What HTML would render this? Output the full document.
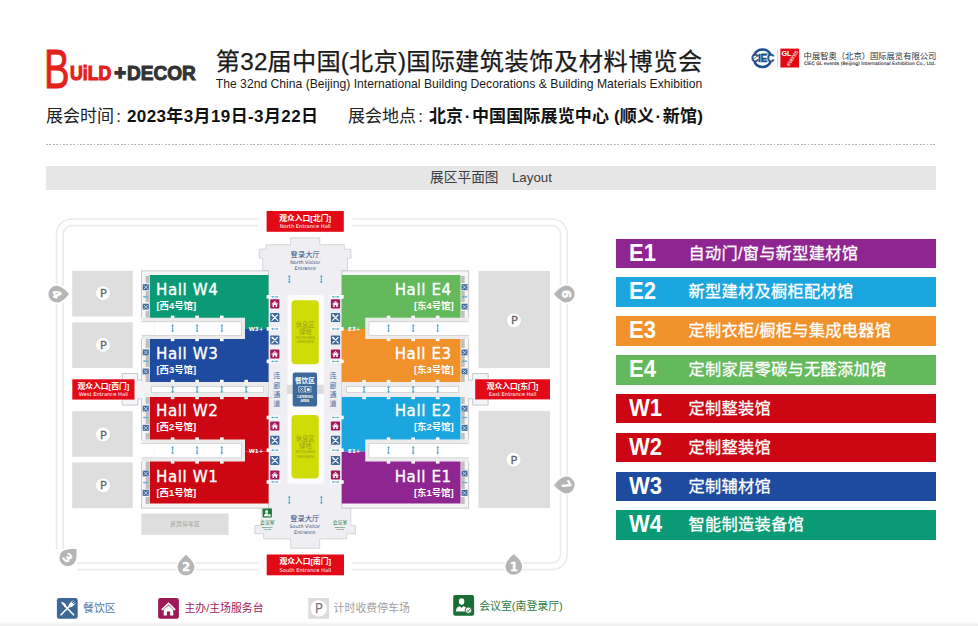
<!DOCTYPE html>
<html lang="zh-CN">
<head>
<meta charset="utf-8">
<title>展区平面图 Layout</title>
<style>
html,body{margin:0;padding:0;background:#fff;}
body{width:978px;height:626px;position:relative;overflow:hidden;font-family:"Liberation Sans","Noto Sans CJK SC",sans-serif;color:#222;}
.abs{position:absolute;white-space:nowrap;}
#title{left:215.8px;top:43.6px;font-size:24.2px;line-height:36px;color:#1a1a1a;letter-spacing:0.23px;-webkit-text-stroke:0.25px #1a1a1a;}
#title span{letter-spacing:0.57px;}
#subtitle{left:215.8px;top:76.4px;font-size:12.16px;line-height:16px;color:#1a1a1a;}
#info1{left:46px;top:104.2px;font-size:17px;line-height:26px;color:#222;}
#info2{left:348px;top:104.2px;font-size:17px;line-height:26px;color:#222;}
#info1 b,#info2 b{font-weight:700;color:#111;margin-left:1.3px;}
.cl{margin-left:2.2px;}
#info1 b{letter-spacing:0.39px;}
#info2 b{letter-spacing:0.16px;}
#info2 b i{font-style:normal;margin:0 1.4px;}
#dots{left:46px;top:144px;width:890px;height:1.2px;background:repeating-linear-gradient(90deg,#b4b4b4 0,#b4b4b4 1.7px,transparent 1.7px,transparent 3.4px);}
#bar{left:46px;top:165.6px;width:890px;height:24px;background:#e6e6e7;}
#bartext{left:46px;top:166.2px;width:890px;height:23px;line-height:23px;text-align:center;font-size:13.7px;color:#3c3c3c;}
.lg{left:616px;width:320px;height:29.5px;}
.lg .k{position:absolute;left:13.4px;top:0;line-height:29.6px;font-size:23.2px;font-weight:700;color:#fff;font-family:"Liberation Sans",sans-serif;transform:scaleX(0.95);transform-origin:0 0;}
.lg .t{position:absolute;left:72.4px;top:0;line-height:28.6px;font-size:16.2px;color:#fff;letter-spacing:0.32px;-webkit-text-stroke:0.3px #fff;}
.bl{font-size:10.9px;line-height:16px;}
#map{left:0;top:0;}
</style>
</head>
<body>

<!-- header -->
<div class="abs" id="logo" style="left:46px;top:46px;width:152px;height:44px;">
  <span class="abs" id="lgB" style="left:-2.2px;top:-4.0px;font-size:55.5px;line-height:55.5px;font-weight:400;color:#e3211c;transform:scale(0.69,1);transform-origin:0 0;-webkit-text-stroke:0.9px #e3211c;">B</span>
  <span class="abs" id="lgU" style="left:23.9px;top:17.3px;font-size:20.2px;line-height:20px;font-weight:700;color:#e3211c;transform:scale(0.88,1);transform-origin:0 0;-webkit-text-stroke:1.15px #e3211c;">UiLD</span>
  <span class="abs" id="lgP" style="left:68.2px;top:16.5px;font-size:20.2px;line-height:20px;font-weight:700;color:#333;-webkit-text-stroke:1.3px #333;">+</span>
  <span class="abs" id="lgD" style="left:80.6px;top:17.3px;font-size:20.2px;line-height:20px;font-weight:700;color:#333;transform:scale(0.945,1);transform-origin:0 0;-webkit-text-stroke:1.0px #333;">DECOR</span>
</div>
<div class="abs" id="title">第32届中国(北京)国际<span>建筑装饰及材料博览会</span></div>
<div class="abs" id="subtitle">The 32nd China (Beijing) International Building Decorations &amp; Building Materials Exhibition</div>
<div class="abs" id="info1">展会时间<span class="cl">:</span> <b>2023年3月19日-3月22日</b></div>
<div class="abs" id="info2">展会地点<span class="cl">:</span> <b>北京<i>·</i>中国国际展览中心 (顺义<i>·</i>新馆)</b></div>

<div class="abs" id="org" style="left:750px;top:46px;width:190px;height:26px;">
  <svg class="abs" style="left:0;top:0" width="52" height="26" viewBox="0 0 52 26">
    <path d="M4.4 8.6A9 9 0 0 1 20.6 8.6" fill="none" stroke="#1d4f91" stroke-width="2.5"/>
    <path d="M4.4 15.9A9 9 0 0 0 20.6 15.9" fill="none" stroke="#1d4f91" stroke-width="2.5"/>
    <path d="M3 13.5Q12 4.5 23 9.4" fill="none" stroke="#2a9a5a" stroke-width="0.9"/>
    <text x="12.5" y="15.9" text-anchor="middle" font-family="Liberation Sans, sans-serif" font-size="10.2" font-weight="700" fill="#1d4f91" stroke="#1d4f91" stroke-width="0.4" letter-spacing="-0.4">CIEC</text>
    <line x1="27.6" y1="3.5" x2="27.6" y2="21" stroke="#aaa" stroke-width="0.5"/>
    <rect x="30.4" y="2.6" width="18.7" height="18.9" fill="#e30613"/>
    <text x="31.6" y="10.2" font-family="Liberation Sans, sans-serif" font-size="7.4" font-weight="700" fill="#fff" letter-spacing="-0.3">GL</text>
    <text transform="translate(39.2,20.6) rotate(-58)" font-family="Liberation Sans, sans-serif" font-size="6.2" fill="#fff" letter-spacing="-0.2">events</text>
  </svg>
  <div class="abs" id="orgcn" style="left:53.6px;top:3.5px;font-size:8.3px;line-height:13px;color:#333;">中展智奥（北京）国际展览有限公司</div>
  <div class="abs" id="orgen" style="left:54px;top:14px;font-size:4.6px;line-height:8px;color:#333;font-family:'DejaVu Sans','Liberation Sans',sans-serif;font-weight:400;-webkit-text-stroke:0.15px #333;">CIEC GL events (Beijing) International Exhibition Co., Ltd.</div>
</div>

<div class="abs" id="dots"></div>
<div class="abs" id="bar"></div>
<div class="abs" id="bartext">展区平面图<span style="margin-left:13.4px;font-size:13.3px;">Layout</span></div>

<!-- right legend -->
<div class="abs lg" style="top:238.5px;background:#8f2590;"><span class="k">E1</span><span class="t">自动门/窗与新型建材馆</span></div>
<div class="abs lg" style="top:277.3px;background:#1ca6df;"><span class="k">E2</span><span class="t">新型建材及橱柜配材馆</span></div>
<div class="abs lg" style="top:316.2px;background:#f0912c;"><span class="k">E3</span><span class="t">定制衣柜/橱柜与集成电器馆</span></div>
<div class="abs lg" style="top:355px;background:#63b95b;"><span class="k">E4</span><span class="t">定制家居零碳与无醛添加馆</span></div>
<div class="abs lg" style="top:393.9px;background:#cc0612;"><span class="k">W1</span><span class="t">定制整装馆</span></div>
<div class="abs lg" style="top:432.7px;background:#cc0612;"><span class="k">W2</span><span class="t">定制整装馆</span></div>
<div class="abs lg" style="top:471.6px;background:#1e4ba0;"><span class="k">W3</span><span class="t">定制辅材馆</span></div>
<div class="abs lg" style="top:510.4px;background:#0a9b76;"><span class="k">W4</span><span class="t">智能制造装备馆</span></div>

<!-- MAP -->
<svg class="abs" id="map" width="978" height="626" viewBox="0 0 978 626">
<!--MAPSTART-->
<g fill="none" stroke="#ececec" stroke-width="1.7">
<rect x="56.6" y="219" width="510.6" height="350.6" rx="15" ry="15"/>
<rect x="63" y="225.6" width="497.6" height="337.6" rx="9" ry="9"/>
</g>
<rect x="258.5" y="216" width="94" height="12" fill="#fff"/><rect x="258.5" y="560" width="94" height="12" fill="#fff"/>
<rect x="72.2" y="270.8" width="60.6" height="45.7" fill="#dedede"/>
<rect x="72.2" y="322.3" width="60.6" height="45.7" fill="#dedede"/>
<rect x="72.2" y="411.1" width="60.6" height="45.7" fill="#dedede"/>
<rect x="72.2" y="462.4" width="60.6" height="45.8" fill="#dedede"/>
<rect x="478.5" y="271" width="71.5" height="97.1" fill="#dedede"/>
<rect x="478.5" y="410.8" width="71.5" height="97.2" fill="#dedede"/>
<rect x="141.3" y="513.4" width="87.3" height="21.4" fill="#dedede"/>
<text x="185" y="526.3" font-family="Liberation Sans, Noto Sans CJK SC, sans-serif" font-size="6" fill="#a8a8a8" text-anchor="middle">贵宾停车区</text>
<circle cx="103.0" cy="293.2" r="6.9" fill="#fff"/>
<text x="103.3" y="297.3" font-family="DejaVu Sans, Liberation Sans, sans-serif" font-size="11.3" fill="#666" stroke="#666" stroke-width="0.3" text-anchor="middle">P</text>
<circle cx="103.0" cy="344.9" r="6.9" fill="#fff"/>
<text x="103.3" y="349.0" font-family="DejaVu Sans, Liberation Sans, sans-serif" font-size="11.3" fill="#666" stroke="#666" stroke-width="0.3" text-anchor="middle">P</text>
<circle cx="103.0" cy="434.4" r="6.9" fill="#fff"/>
<text x="103.3" y="438.5" font-family="DejaVu Sans, Liberation Sans, sans-serif" font-size="11.3" fill="#666" stroke="#666" stroke-width="0.3" text-anchor="middle">P</text>
<circle cx="103.0" cy="485.3" r="6.9" fill="#fff"/>
<text x="103.3" y="489.4" font-family="DejaVu Sans, Liberation Sans, sans-serif" font-size="11.3" fill="#666" stroke="#666" stroke-width="0.3" text-anchor="middle">P</text>
<circle cx="514.0" cy="320.3" r="6.9" fill="#fff"/>
<text x="514.3" y="324.4" font-family="DejaVu Sans, Liberation Sans, sans-serif" font-size="11.3" fill="#666" stroke="#666" stroke-width="0.3" text-anchor="middle">P</text>
<circle cx="513.5" cy="459.6" r="6.9" fill="#fff"/>
<text x="513.8" y="463.7" font-family="DejaVu Sans, Liberation Sans, sans-serif" font-size="11.3" fill="#666" stroke="#666" stroke-width="0.3" text-anchor="middle">P</text>
<polygon points="268.5,276 268.5,270.6 262.8,270.6 262.8,258.2 259.3,258.2 259.3,249.2 266,249.2 266,244.7 290.5,244.7 290.5,237.8 319.8,237.8 319.8,244.7 344.3,244.7 344.3,249.2 351.0,249.2 351.0,258.2 347.5,258.2 347.5,270.6 341.8,270.6 341.8,276" fill="#efeff3" stroke="#c9c9c9" stroke-width="0.7"/>
<polygon points="268.5,503 268.5,506.7 261.8,506.7 261.8,525.4 254.9,525.4 254.9,533.7 263.6,533.7 263.6,538.9 290.6,538.9 290.6,548.3 319.7,548.3 319.7,538.9 346.7,538.9 346.7,533.7 355.4,533.7 355.4,525.4 350.8,525.4 350.8,506.7 341.8,506.7 341.8,503" fill="#efeff3" stroke="#c9c9c9" stroke-width="0.7"/>
<rect x="268" y="271" width="74.3" height="235.4" fill="#efeff3"/>
<rect x="287.5" y="295" width="36.4" height="188.8" rx="2.5" fill="#fcfcfe"/>
<rect x="291.5" y="300.2" width="27.3" height="64.0" rx="4" fill="#d0dc06"/>
<text x="305.2" y="326.8" font-family="Liberation Sans, Noto Sans CJK SC, sans-serif" font-size="6.3" fill="#97a018" text-anchor="middle">休息区</text>
<text x="305.2" y="333.8" font-family="Liberation Sans, Noto Sans CJK SC, sans-serif" font-size="6.3" fill="#97a018" text-anchor="middle">绿地</text>
<text x="305.2" y="338.5" font-family="Liberation Sans, sans-serif" font-size="2.6" fill="#97a018" text-anchor="middle">RESTING AREA</text>
<text x="305.2" y="343.2" font-family="Liberation Sans, sans-serif" font-size="2.6" fill="#97a018" text-anchor="middle">GREEN AREA</text>
<rect x="291.5" y="415" width="27.3" height="63.4" rx="4" fill="#d0dc06"/>
<text x="305.2" y="441.3" font-family="Liberation Sans, Noto Sans CJK SC, sans-serif" font-size="6.3" fill="#97a018" text-anchor="middle">休息区</text>
<text x="305.2" y="448.3" font-family="Liberation Sans, Noto Sans CJK SC, sans-serif" font-size="6.3" fill="#97a018" text-anchor="middle">绿地</text>
<text x="305.2" y="453.0" font-family="Liberation Sans, sans-serif" font-size="2.6" fill="#97a018" text-anchor="middle">RESTING AREA</text>
<text x="305.2" y="457.7" font-family="Liberation Sans, sans-serif" font-size="2.6" fill="#97a018" text-anchor="middle">GREEN AREA</text>
<rect x="286.8" y="384.8" width="37" height="9.2" fill="#dcdcdc"/>
<rect x="292.7" y="372.6" width="24.4" height="33.8" rx="2.2" fill="#3d6a9a"/>
<text x="304.9" y="382.6" font-family="Liberation Sans, Noto Sans CJK SC, sans-serif" font-size="6.6" font-weight="700" fill="#fff" text-anchor="middle">餐饮区</text>
<rect x="298.8" y="386.6" width="5.4" height="5.4" fill="none" stroke="#fff" stroke-width="0.5"/>
<rect x="305.6" y="386.6" width="5.4" height="5.4" fill="none" stroke="#fff" stroke-width="0.5"/>
<path d="M299.8 387.6l3.4 3.4M303.2 387.6l-3.4 3.4" stroke="#fff" stroke-width="0.6" fill="none"/>
<circle cx="308.3" cy="389.5" r="1.5" fill="#fff"/>
<text x="304.9" y="397.6" font-family="Liberation Sans, sans-serif" font-size="3.1" font-weight="700" fill="#fff" text-anchor="middle">CATERING</text>
<text x="304.9" y="401.6" font-family="Liberation Sans, sans-serif" font-size="3.1" font-weight="700" fill="#fff" text-anchor="middle">AREA</text>
<text x="276.8" y="378.2" font-family="Liberation Sans, Noto Sans CJK SC, sans-serif" font-size="7.0" fill="#52719d" text-anchor="middle">连</text>
<text x="276.8" y="387.5" font-family="Liberation Sans, Noto Sans CJK SC, sans-serif" font-size="7.0" fill="#52719d" text-anchor="middle">廊</text>
<text x="276.8" y="396.6" font-family="Liberation Sans, Noto Sans CJK SC, sans-serif" font-size="7.0" fill="#52719d" text-anchor="middle">通</text>
<text x="276.8" y="405.6" font-family="Liberation Sans, Noto Sans CJK SC, sans-serif" font-size="7.0" fill="#52719d" text-anchor="middle">道</text>
<text x="333" y="378.2" font-family="Liberation Sans, Noto Sans CJK SC, sans-serif" font-size="7.0" fill="#52719d" text-anchor="middle">连</text>
<text x="333" y="387.5" font-family="Liberation Sans, Noto Sans CJK SC, sans-serif" font-size="7.0" fill="#52719d" text-anchor="middle">廊</text>
<text x="333" y="396.6" font-family="Liberation Sans, Noto Sans CJK SC, sans-serif" font-size="7.0" fill="#52719d" text-anchor="middle">通</text>
<text x="333" y="405.6" font-family="Liberation Sans, Noto Sans CJK SC, sans-serif" font-size="7.0" fill="#52719d" text-anchor="middle">道</text>
<text x="305.2" y="256.9" font-family="Liberation Sans, Noto Sans CJK SC, sans-serif" font-size="7.3" fill="#2f4f82" text-anchor="middle">登录大厅</text>
<text x="305.2" y="263.8" font-family="DejaVu Sans, Liberation Sans, sans-serif" font-size="4.8" fill="#2f4f82" text-anchor="middle">North Visitor</text>
<text x="305.2" y="269.6" font-family="DejaVu Sans, Liberation Sans, sans-serif" font-size="4.8" fill="#2f4f82" text-anchor="middle">Entrance</text>
<text x="304.8" y="521.3" font-family="Liberation Sans, Noto Sans CJK SC, sans-serif" font-size="7.3" fill="#2f4f82" text-anchor="middle">登录大厅</text>
<text x="304.8" y="528.4" font-family="DejaVu Sans, Liberation Sans, sans-serif" font-size="4.8" fill="#2f4f82" text-anchor="middle">South Visitor</text>
<text x="304.8" y="534.2" font-family="DejaVu Sans, Liberation Sans, sans-serif" font-size="4.8" fill="#2f4f82" text-anchor="middle">Entrance</text>
<rect x="262.6" y="508.2" width="9.3" height="9.3" rx="1" fill="#1a7a3a"/>
<circle cx="266.6" cy="511.4" r="1.5" fill="#fff"/><path d="M263.9 516.2q0.2-3 2.7-3t2.7 3z" fill="#fff"/><circle cx="269.6" cy="515.4" r="1.3" fill="#fff" stroke="#1a7a3a" stroke-width="0.4"/>
<text x="267.3" y="524.2" font-family="Liberation Sans, Noto Sans CJK SC, sans-serif" font-size="4.8" fill="#1a7a3a" text-anchor="middle">会议室</text>
<text x="267.3" y="527.6" font-family="Liberation Sans, sans-serif" font-size="2.3" font-weight="700" fill="#1a7a3a" text-anchor="middle">MEETING</text>
<text x="267.3" y="530.2" font-family="Liberation Sans, sans-serif" font-size="2.3" font-weight="700" fill="#1a7a3a" text-anchor="middle">ROOM</text>
<text x="340" y="524.2" font-family="Liberation Sans, Noto Sans CJK SC, sans-serif" font-size="4.8" fill="#1a7a3a" text-anchor="middle">会议室</text>
<text x="340" y="527.6" font-family="Liberation Sans, sans-serif" font-size="2.3" font-weight="700" fill="#1a7a3a" text-anchor="middle">MEETING</text>
<text x="340" y="530.2" font-family="Liberation Sans, sans-serif" font-size="2.3" font-weight="700" fill="#1a7a3a" text-anchor="middle">ROOM</text>
<rect x="141.60" y="270.9" width="126.90" height="237.2" fill="#f5f5f6" stroke="#bfbfbf" stroke-width="0.8"/>
<polygon points="142.20,380.1 137.70,380.1 137.70,373.5 122.20,373.5 122.20,405.1 137.70,405.1 137.70,398.8 142.20,398.8" fill="#f5f5f7" stroke="#b9bfc0" stroke-width="0.8"/>
<rect x="141.00" y="380.6" width="10.00" height="17.7" fill="#f3f3f4"/>
<rect x="145.60" y="276" width="3.60" height="7" fill="#bfbfbf"/>
<rect x="145.60" y="291" width="3.60" height="11" fill="#bfbfbf"/>
<rect x="145.60" y="311" width="3.60" height="9" fill="#bfbfbf"/>
<rect x="145.60" y="337" width="3.60" height="11" fill="#bfbfbf"/>
<rect x="145.60" y="355" width="3.60" height="12" fill="#bfbfbf"/>
<rect x="145.60" y="375" width="3.60" height="7" fill="#bfbfbf"/>
<rect x="145.60" y="397" width="3.60" height="7" fill="#bfbfbf"/>
<rect x="145.60" y="412" width="3.60" height="12" fill="#bfbfbf"/>
<rect x="145.60" y="433" width="3.60" height="9" fill="#bfbfbf"/>
<rect x="145.60" y="459" width="3.60" height="11" fill="#bfbfbf"/>
<rect x="145.60" y="477" width="3.60" height="12" fill="#bfbfbf"/>
<rect x="145.60" y="497" width="3.60" height="7" fill="#bfbfbf"/>
<rect x="140.80" y="317.8" width="104.20" height="21.2" fill="#fff"/>
<rect x="141.50" y="317.8" width="103.50" height="21.2" fill="#ebebeb"/>
<rect x="153.90" y="321.8" width="87.40" height="13.6" fill="#fff" stroke="#c4c4c4" stroke-width="0.6"/>
<rect x="140.60" y="322.1" width="13.80" height="13.0" fill="#fff"/>
<path d="M141.50 321.8H154.00M141.50 335.4H154.00" stroke="#c4c4c4" stroke-width="0.6" fill="none"/>
<rect x="140.80" y="439.6" width="104.20" height="21.8" fill="#fff"/>
<rect x="141.50" y="439.6" width="103.50" height="21.8" fill="#ebebeb"/>
<rect x="153.90" y="443.6" width="87.40" height="14.2" fill="#fff" stroke="#c4c4c4" stroke-width="0.6"/>
<rect x="140.60" y="443.90000000000003" width="13.80" height="13.6" fill="#fff"/>
<path d="M141.50 443.6H154.00M141.50 457.79999999999995H154.00" stroke="#c4c4c4" stroke-width="0.6" fill="none"/>
<rect x="150.50" y="382" width="118.00" height="15" fill="#ececee"/>
<rect x="151.60" y="386.5" width="112.10" height="6.1" fill="#fff" stroke="#c4c4c4" stroke-width="0.6"/>
<polygon points="149.80,275 268.50,275 268.50,329 245.00,329 245.00,317.8 149.80,317.8" fill="#0a9b76"/>
<polygon points="149.80,339 245.00,339 245.00,329 268.50,329 268.50,382 149.80,382" fill="#1e4ba0"/>
<polygon points="149.80,397 268.50,397 268.50,451.5 245.00,451.5 245.00,439.6 149.80,439.6" fill="#cc0612"/>
<polygon points="149.80,461.4 245.00,461.4 245.00,451.5 268.50,451.5 268.50,503.6 149.80,503.6" fill="#cc0612"/>
<rect x="170.80" y="315.6" width="3.60" height="2.5" fill="#fff"/>
<rect x="170.80" y="338.7" width="3.60" height="2.5" fill="#fff"/>
<path d="M172.60 324.60V331.80" stroke="#5fa8cc" stroke-width="0.8" fill="none"/>
<path d="M171.10 326.20L172.60 324.00L174.10 326.20zM171.10 330.20L172.60 332.40L174.10 330.20z" fill="#5fa8cc"/>
<circle cx="172.60" cy="328.2" r="0.8" fill="#5fa8cc"/>
<rect x="195.30" y="315.6" width="3.60" height="2.5" fill="#fff"/>
<rect x="195.30" y="338.7" width="3.60" height="2.5" fill="#fff"/>
<path d="M197.10 324.60V331.80" stroke="#5fa8cc" stroke-width="0.8" fill="none"/>
<path d="M195.60 326.20L197.10 324.00L198.60 326.20zM195.60 330.20L197.10 332.40L198.60 330.20z" fill="#5fa8cc"/>
<circle cx="197.10" cy="328.2" r="0.8" fill="#5fa8cc"/>
<rect x="220.00" y="315.6" width="3.60" height="2.5" fill="#fff"/>
<rect x="220.00" y="338.7" width="3.60" height="2.5" fill="#fff"/>
<path d="M221.80 324.60V331.80" stroke="#5fa8cc" stroke-width="0.8" fill="none"/>
<path d="M220.30 326.20L221.80 324.00L223.30 326.20zM220.30 330.20L221.80 332.40L223.30 330.20z" fill="#5fa8cc"/>
<circle cx="221.80" cy="328.2" r="0.8" fill="#5fa8cc"/>
<rect x="170.80" y="437.40000000000003" width="3.60" height="2.5" fill="#fff"/>
<rect x="170.80" y="461.09999999999997" width="3.60" height="2.5" fill="#fff"/>
<path d="M172.60 446.70V453.90" stroke="#5fa8cc" stroke-width="0.8" fill="none"/>
<path d="M171.10 448.30L172.60 446.10L174.10 448.30zM171.10 452.30L172.60 454.50L174.10 452.30z" fill="#5fa8cc"/>
<circle cx="172.60" cy="450.3" r="0.8" fill="#5fa8cc"/>
<rect x="195.30" y="437.40000000000003" width="3.60" height="2.5" fill="#fff"/>
<rect x="195.30" y="461.09999999999997" width="3.60" height="2.5" fill="#fff"/>
<path d="M197.10 446.70V453.90" stroke="#5fa8cc" stroke-width="0.8" fill="none"/>
<path d="M195.60 448.30L197.10 446.10L198.60 448.30zM195.60 452.30L197.10 454.50L198.60 452.30z" fill="#5fa8cc"/>
<circle cx="197.10" cy="450.3" r="0.8" fill="#5fa8cc"/>
<rect x="220.00" y="437.40000000000003" width="3.60" height="2.5" fill="#fff"/>
<rect x="220.00" y="461.09999999999997" width="3.60" height="2.5" fill="#fff"/>
<path d="M221.80 446.70V453.90" stroke="#5fa8cc" stroke-width="0.8" fill="none"/>
<path d="M220.30 448.30L221.80 446.10L223.30 448.30zM220.30 452.30L221.80 454.50L223.30 452.30z" fill="#5fa8cc"/>
<circle cx="221.80" cy="450.3" r="0.8" fill="#5fa8cc"/>
<rect x="170.80" y="379.8" width="3.60" height="2.5" fill="#fff"/>
<rect x="170.80" y="396.7" width="3.60" height="2.5" fill="#fff"/>
<path d="M172.60 386.30V392.70" stroke="#5fa8cc" stroke-width="0.8" fill="none"/>
<path d="M171.10 387.90L172.60 385.70L174.10 387.90zM171.10 391.10L172.60 393.30L174.10 391.10z" fill="#5fa8cc"/>
<circle cx="172.60" cy="389.5" r="0.8" fill="#5fa8cc"/>
<rect x="195.30" y="379.8" width="3.60" height="2.5" fill="#fff"/>
<rect x="195.30" y="396.7" width="3.60" height="2.5" fill="#fff"/>
<path d="M197.10 386.30V392.70" stroke="#5fa8cc" stroke-width="0.8" fill="none"/>
<path d="M195.60 387.90L197.10 385.70L198.60 387.90zM195.60 391.10L197.10 393.30L198.60 391.10z" fill="#5fa8cc"/>
<circle cx="197.10" cy="389.5" r="0.8" fill="#5fa8cc"/>
<rect x="220.00" y="379.8" width="3.60" height="2.5" fill="#fff"/>
<rect x="220.00" y="396.7" width="3.60" height="2.5" fill="#fff"/>
<path d="M221.80 386.30V392.70" stroke="#5fa8cc" stroke-width="0.8" fill="none"/>
<path d="M220.30 387.90L221.80 385.70L223.30 387.90zM220.30 391.10L221.80 393.30L223.30 391.10z" fill="#5fa8cc"/>
<circle cx="221.80" cy="389.5" r="0.8" fill="#5fa8cc"/>
<rect x="244.40" y="379.8" width="3.60" height="2.5" fill="#fff"/>
<rect x="244.40" y="396.7" width="3.60" height="2.5" fill="#fff"/>
<path d="M246.20 386.30V392.70" stroke="#5fa8cc" stroke-width="0.8" fill="none"/>
<path d="M244.70 387.90L246.20 385.70L247.70 387.90zM244.70 391.10L246.20 393.30L247.70 391.10z" fill="#5fa8cc"/>
<circle cx="246.20" cy="389.5" r="0.8" fill="#5fa8cc"/>
<rect x="266.60" y="295.0" width="13.80" height="3.6" fill="#fdfdfe"/>
<path d="M271.60 296.8H278.00" stroke="#5fa8cc" stroke-width="0.8" fill="none"/>
<path d="M273.00 295.7L271.10 296.8L273.00 297.90000000000003zM276.60 295.7L278.50 296.8L276.60 297.90000000000003z" fill="#5fa8cc"/>
<rect x="266.60" y="327.09999999999997" width="13.80" height="3.6" fill="#fdfdfe"/>
<path d="M271.60 328.9H278.00" stroke="#5fa8cc" stroke-width="0.8" fill="none"/>
<path d="M273.00 327.79999999999995L271.10 328.9L273.00 330.0zM276.60 327.79999999999995L278.50 328.9L276.60 330.0z" fill="#5fa8cc"/>
<rect x="266.60" y="359.59999999999997" width="13.80" height="3.6" fill="#fdfdfe"/>
<path d="M271.60 361.4H278.00" stroke="#5fa8cc" stroke-width="0.8" fill="none"/>
<path d="M273.00 360.29999999999995L271.10 361.4L273.00 362.5zM276.60 360.29999999999995L278.50 361.4L276.60 362.5z" fill="#5fa8cc"/>
<rect x="266.60" y="415.7" width="13.80" height="3.6" fill="#fdfdfe"/>
<path d="M271.60 417.5H278.00" stroke="#5fa8cc" stroke-width="0.8" fill="none"/>
<path d="M273.00 416.4L271.10 417.5L273.00 418.6zM276.60 416.4L278.50 417.5L276.60 418.6z" fill="#5fa8cc"/>
<rect x="266.60" y="448.4" width="13.80" height="3.6" fill="#fdfdfe"/>
<path d="M271.60 450.2H278.00" stroke="#5fa8cc" stroke-width="0.8" fill="none"/>
<path d="M273.00 449.09999999999997L271.10 450.2L273.00 451.3zM276.60 449.09999999999997L278.50 450.2L276.60 451.3z" fill="#5fa8cc"/>
<rect x="266.60" y="480.2" width="13.80" height="3.6" fill="#fdfdfe"/>
<path d="M271.60 482H278.00" stroke="#5fa8cc" stroke-width="0.8" fill="none"/>
<path d="M273.00 480.9L271.10 482L273.00 483.1zM276.60 480.9L278.50 482L276.60 483.1z" fill="#5fa8cc"/>
<rect x="142.60" y="284.0" width="6.40" height="6.2" fill="#3d6a9a" stroke="#dfe6ee" stroke-width="0.4"/>
<path d="M143.90 285.30l3.8 3.8M147.70 285.30l-3.8 3.8" stroke="#fff" stroke-width="0.7" fill="none"/>
<rect x="142.60" y="303.6" width="6.40" height="6.2" fill="#3d6a9a" stroke="#dfe6ee" stroke-width="0.4"/>
<path d="M143.90 304.90l3.8 3.8M147.70 304.90l-3.8 3.8" stroke="#fff" stroke-width="0.7" fill="none"/>
<rect x="142.60" y="349.2" width="6.40" height="6.2" fill="#3d6a9a" stroke="#dfe6ee" stroke-width="0.4"/>
<path d="M143.90 350.50l3.8 3.8M147.70 350.50l-3.8 3.8" stroke="#fff" stroke-width="0.7" fill="none"/>
<rect x="142.60" y="368.4" width="6.40" height="6.2" fill="#3d6a9a" stroke="#dfe6ee" stroke-width="0.4"/>
<path d="M143.90 369.70l3.8 3.8M147.70 369.70l-3.8 3.8" stroke="#fff" stroke-width="0.7" fill="none"/>
<rect x="142.60" y="405.5" width="6.40" height="6.2" fill="#3d6a9a" stroke="#dfe6ee" stroke-width="0.4"/>
<path d="M143.90 406.80l3.8 3.8M147.70 406.80l-3.8 3.8" stroke="#fff" stroke-width="0.7" fill="none"/>
<rect x="142.60" y="424.8" width="6.40" height="6.2" fill="#3d6a9a" stroke="#dfe6ee" stroke-width="0.4"/>
<path d="M143.90 426.10l3.8 3.8M147.70 426.10l-3.8 3.8" stroke="#fff" stroke-width="0.7" fill="none"/>
<rect x="142.60" y="470.4" width="6.40" height="6.2" fill="#3d6a9a" stroke="#dfe6ee" stroke-width="0.4"/>
<path d="M143.90 471.70l3.8 3.8M147.70 471.70l-3.8 3.8" stroke="#fff" stroke-width="0.7" fill="none"/>
<rect x="142.60" y="489.8" width="6.40" height="6.2" fill="#3d6a9a" stroke="#dfe6ee" stroke-width="0.4"/>
<path d="M143.90 491.10l3.8 3.8M147.70 491.10l-3.8 3.8" stroke="#fff" stroke-width="0.7" fill="none"/>
<path d="M143.40 296.8H147.80" stroke="#5fa8cc" stroke-width="0.8" fill="none"/>
<path d="M144.80 295.7L142.90 296.8L144.80 297.90000000000003zM146.40 295.7L148.30 296.8L146.40 297.90000000000003z" fill="#5fa8cc"/>
<path d="M143.40 361.2H147.80" stroke="#5fa8cc" stroke-width="0.8" fill="none"/>
<path d="M144.80 360.09999999999997L142.90 361.2L144.80 362.3zM146.40 360.09999999999997L148.30 361.2L146.40 362.3z" fill="#5fa8cc"/>
<path d="M143.40 417.6H147.80" stroke="#5fa8cc" stroke-width="0.8" fill="none"/>
<path d="M144.80 416.5L142.90 417.6L144.80 418.70000000000005zM146.40 416.5L148.30 417.6L146.40 418.70000000000005z" fill="#5fa8cc"/>
<path d="M143.40 482.6H147.80" stroke="#5fa8cc" stroke-width="0.8" fill="none"/>
<path d="M144.80 481.5L142.90 482.6L144.80 483.70000000000005zM146.40 481.5L148.30 482.6L146.40 483.70000000000005z" fill="#5fa8cc"/>
<rect x="270.20" y="299.2" width="9.20" height="9.2" fill="#a3195b" rx="0.8"/>
<path d="M271.40 304.10L274.80 300.90L278.20 304.10L277.70 304.60L274.80 301.90L271.90 304.60z" fill="#fff"/>
<path d="M272.50 304.30L274.80 302.30L277.10 304.30V306.90H275.60V305.10H274.00V306.90H272.50z" fill="#fff"/>
<rect x="270.20" y="349.4" width="9.20" height="9.2" fill="#a3195b" rx="0.8"/>
<path d="M271.40 354.30L274.80 351.10L278.20 354.30L277.70 354.80L274.80 352.10L271.90 354.80z" fill="#fff"/>
<path d="M272.50 354.50L274.80 352.50L277.10 354.50V357.10H275.60V355.30H274.00V357.10H272.50z" fill="#fff"/>
<rect x="270.20" y="421.4" width="9.20" height="9.2" fill="#a3195b" rx="0.8"/>
<path d="M271.40 426.30L274.80 423.10L278.20 426.30L277.70 426.80L274.80 424.10L271.90 426.80z" fill="#fff"/>
<path d="M272.50 426.50L274.80 424.50L277.10 426.50V429.10H275.60V427.30H274.00V429.10H272.50z" fill="#fff"/>
<rect x="270.20" y="470.4" width="9.20" height="9.2" fill="#a3195b" rx="0.8"/>
<path d="M271.40 475.30L274.80 472.10L278.20 475.30L277.70 475.80L274.80 473.10L271.90 475.80z" fill="#fff"/>
<path d="M272.50 475.50L274.80 473.50L277.10 475.50V478.10H275.60V476.30H274.00V478.10H272.50z" fill="#fff"/>
<rect x="270.20" y="313.1" width="9.20" height="9.0" fill="#3d6a9a" rx="0.8"/>
<path d="M272.20 315.00L277.60 320.40M277.40 315.00L272.00 320.40" stroke="#fff" stroke-width="1.1" stroke-linecap="round" fill="none"/>
<ellipse cx="272.60" cy="315.40" rx="1.3" ry="0.8" transform="rotate(45 272.60 315.40)" fill="#fff"/>
<rect x="270.20" y="335.6" width="9.20" height="9.0" fill="#3d6a9a" rx="0.8"/>
<path d="M272.20 337.50L277.60 342.90M277.40 337.50L272.00 342.90" stroke="#fff" stroke-width="1.1" stroke-linecap="round" fill="none"/>
<ellipse cx="272.60" cy="337.90" rx="1.3" ry="0.8" transform="rotate(45 272.60 337.90)" fill="#fff"/>
<rect x="270.20" y="435.8" width="9.20" height="9.0" fill="#3d6a9a" rx="0.8"/>
<path d="M272.20 437.70L277.60 443.10M277.40 437.70L272.00 443.10" stroke="#fff" stroke-width="1.1" stroke-linecap="round" fill="none"/>
<ellipse cx="272.60" cy="438.10" rx="1.3" ry="0.8" transform="rotate(45 272.60 438.10)" fill="#fff"/>
<rect x="270.20" y="455.9" width="9.20" height="9.0" fill="#3d6a9a" rx="0.8"/>
<path d="M272.20 457.80L277.60 463.20M277.40 457.80L272.00 463.20" stroke="#fff" stroke-width="1.1" stroke-linecap="round" fill="none"/>
<ellipse cx="272.60" cy="458.20" rx="1.3" ry="0.8" transform="rotate(45 272.60 458.20)" fill="#fff"/>
<text x="156.0" y="294.7" font-family="DejaVu Sans, Liberation Sans, sans-serif" font-size="15.1" letter-spacing="0.6" fill="#fff" stroke="#fff" stroke-width="0.35" text-anchor="start">Hall W4</text>
<text x="156.5" y="309.1" font-family="Liberation Sans, Noto Sans CJK SC, sans-serif" font-size="9.4" font-weight="700" fill="#fff" text-anchor="start">[西4号馆]</text>
<text x="156.0" y="358.7" font-family="DejaVu Sans, Liberation Sans, sans-serif" font-size="15.1" letter-spacing="0.6" fill="#fff" stroke="#fff" stroke-width="0.35" text-anchor="start">Hall W3</text>
<text x="156.5" y="373.1" font-family="Liberation Sans, Noto Sans CJK SC, sans-serif" font-size="9.4" font-weight="700" fill="#fff" text-anchor="start">[西3号馆]</text>
<text x="156.0" y="416.0" font-family="DejaVu Sans, Liberation Sans, sans-serif" font-size="15.1" letter-spacing="0.6" fill="#fff" stroke="#fff" stroke-width="0.35" text-anchor="start">Hall W2</text>
<text x="156.5" y="430.4" font-family="Liberation Sans, Noto Sans CJK SC, sans-serif" font-size="9.4" font-weight="700" fill="#fff" text-anchor="start">[西2号馆]</text>
<text x="156.0" y="481.6" font-family="DejaVu Sans, Liberation Sans, sans-serif" font-size="15.1" letter-spacing="0.6" fill="#fff" stroke="#fff" stroke-width="0.35" text-anchor="start">Hall W1</text>
<text x="156.5" y="496.0" font-family="Liberation Sans, Noto Sans CJK SC, sans-serif" font-size="9.4" font-weight="700" fill="#fff" text-anchor="start">[西1号馆]</text>
<text x="256.0" y="330.9" font-family="DejaVu Sans, Liberation Sans, sans-serif" font-size="5.6" font-weight="700" fill="#fff" text-anchor="middle">W3+</text>
<text x="256.0" y="453.2" font-family="DejaVu Sans, Liberation Sans, sans-serif" font-size="5.6" font-weight="700" fill="#fff" text-anchor="middle">W1+</text>
<rect x="341.80" y="270.9" width="126.90" height="237.2" fill="#f5f5f6" stroke="#bfbfbf" stroke-width="0.8"/>
<polygon points="468.10,380.1 472.60,380.1 472.60,373.5 488.10,373.5 488.10,405.1 472.60,405.1 472.60,398.8 468.10,398.8" fill="#f5f5f7" stroke="#b9bfc0" stroke-width="0.8"/>
<rect x="459.30" y="380.6" width="10.00" height="17.7" fill="#f3f3f4"/>
<rect x="461.10" y="276" width="3.60" height="7" fill="#bfbfbf"/>
<rect x="461.10" y="291" width="3.60" height="11" fill="#bfbfbf"/>
<rect x="461.10" y="311" width="3.60" height="9" fill="#bfbfbf"/>
<rect x="461.10" y="337" width="3.60" height="11" fill="#bfbfbf"/>
<rect x="461.10" y="355" width="3.60" height="12" fill="#bfbfbf"/>
<rect x="461.10" y="375" width="3.60" height="7" fill="#bfbfbf"/>
<rect x="461.10" y="397" width="3.60" height="7" fill="#bfbfbf"/>
<rect x="461.10" y="412" width="3.60" height="12" fill="#bfbfbf"/>
<rect x="461.10" y="433" width="3.60" height="9" fill="#bfbfbf"/>
<rect x="461.10" y="459" width="3.60" height="11" fill="#bfbfbf"/>
<rect x="461.10" y="477" width="3.60" height="12" fill="#bfbfbf"/>
<rect x="461.10" y="497" width="3.60" height="7" fill="#bfbfbf"/>
<rect x="365.30" y="317.8" width="104.20" height="21.2" fill="#fff"/>
<rect x="365.30" y="317.8" width="103.50" height="21.2" fill="#ebebeb"/>
<rect x="369.00" y="321.8" width="87.40" height="13.6" fill="#fff" stroke="#c4c4c4" stroke-width="0.6"/>
<rect x="455.90" y="322.1" width="13.80" height="13.0" fill="#fff"/>
<path d="M468.80 321.8H456.30M468.80 335.4H456.30" stroke="#c4c4c4" stroke-width="0.6" fill="none"/>
<rect x="365.30" y="439.6" width="104.20" height="21.8" fill="#fff"/>
<rect x="365.30" y="439.6" width="103.50" height="21.8" fill="#ebebeb"/>
<rect x="369.00" y="443.6" width="87.40" height="14.2" fill="#fff" stroke="#c4c4c4" stroke-width="0.6"/>
<rect x="455.90" y="443.90000000000003" width="13.80" height="13.6" fill="#fff"/>
<path d="M468.80 443.6H456.30M468.80 457.79999999999995H456.30" stroke="#c4c4c4" stroke-width="0.6" fill="none"/>
<rect x="341.80" y="382" width="118.00" height="15" fill="#ececee"/>
<rect x="346.60" y="386.5" width="112.10" height="6.1" fill="#fff" stroke="#c4c4c4" stroke-width="0.6"/>
<polygon points="460.50,275 341.80,275 341.80,329 365.30,329 365.30,317.8 460.50,317.8" fill="#63b95b"/>
<polygon points="460.50,339 365.30,339 365.30,329 341.80,329 341.80,382 460.50,382" fill="#f0912c"/>
<polygon points="460.50,397 341.80,397 341.80,451.5 365.30,451.5 365.30,439.6 460.50,439.6" fill="#1ca6df"/>
<polygon points="460.50,461.4 365.30,461.4 365.30,451.5 341.80,451.5 341.80,503.6 460.50,503.6" fill="#8f2590"/>
<rect x="435.90" y="315.6" width="3.60" height="2.5" fill="#fff"/>
<rect x="435.90" y="338.7" width="3.60" height="2.5" fill="#fff"/>
<path d="M437.70 324.60V331.80" stroke="#5fa8cc" stroke-width="0.8" fill="none"/>
<path d="M436.20 326.20L437.70 324.00L439.20 326.20zM436.20 330.20L437.70 332.40L439.20 330.20z" fill="#5fa8cc"/>
<circle cx="437.70" cy="328.2" r="0.8" fill="#5fa8cc"/>
<rect x="411.40" y="315.6" width="3.60" height="2.5" fill="#fff"/>
<rect x="411.40" y="338.7" width="3.60" height="2.5" fill="#fff"/>
<path d="M413.20 324.60V331.80" stroke="#5fa8cc" stroke-width="0.8" fill="none"/>
<path d="M411.70 326.20L413.20 324.00L414.70 326.20zM411.70 330.20L413.20 332.40L414.70 330.20z" fill="#5fa8cc"/>
<circle cx="413.20" cy="328.2" r="0.8" fill="#5fa8cc"/>
<rect x="386.70" y="315.6" width="3.60" height="2.5" fill="#fff"/>
<rect x="386.70" y="338.7" width="3.60" height="2.5" fill="#fff"/>
<path d="M388.50 324.60V331.80" stroke="#5fa8cc" stroke-width="0.8" fill="none"/>
<path d="M387.00 326.20L388.50 324.00L390.00 326.20zM387.00 330.20L388.50 332.40L390.00 330.20z" fill="#5fa8cc"/>
<circle cx="388.50" cy="328.2" r="0.8" fill="#5fa8cc"/>
<rect x="435.90" y="437.40000000000003" width="3.60" height="2.5" fill="#fff"/>
<rect x="435.90" y="461.09999999999997" width="3.60" height="2.5" fill="#fff"/>
<path d="M437.70 446.70V453.90" stroke="#5fa8cc" stroke-width="0.8" fill="none"/>
<path d="M436.20 448.30L437.70 446.10L439.20 448.30zM436.20 452.30L437.70 454.50L439.20 452.30z" fill="#5fa8cc"/>
<circle cx="437.70" cy="450.3" r="0.8" fill="#5fa8cc"/>
<rect x="411.40" y="437.40000000000003" width="3.60" height="2.5" fill="#fff"/>
<rect x="411.40" y="461.09999999999997" width="3.60" height="2.5" fill="#fff"/>
<path d="M413.20 446.70V453.90" stroke="#5fa8cc" stroke-width="0.8" fill="none"/>
<path d="M411.70 448.30L413.20 446.10L414.70 448.30zM411.70 452.30L413.20 454.50L414.70 452.30z" fill="#5fa8cc"/>
<circle cx="413.20" cy="450.3" r="0.8" fill="#5fa8cc"/>
<rect x="386.70" y="437.40000000000003" width="3.60" height="2.5" fill="#fff"/>
<rect x="386.70" y="461.09999999999997" width="3.60" height="2.5" fill="#fff"/>
<path d="M388.50 446.70V453.90" stroke="#5fa8cc" stroke-width="0.8" fill="none"/>
<path d="M387.00 448.30L388.50 446.10L390.00 448.30zM387.00 452.30L388.50 454.50L390.00 452.30z" fill="#5fa8cc"/>
<circle cx="388.50" cy="450.3" r="0.8" fill="#5fa8cc"/>
<rect x="435.90" y="379.8" width="3.60" height="2.5" fill="#fff"/>
<rect x="435.90" y="396.7" width="3.60" height="2.5" fill="#fff"/>
<path d="M437.70 386.30V392.70" stroke="#5fa8cc" stroke-width="0.8" fill="none"/>
<path d="M436.20 387.90L437.70 385.70L439.20 387.90zM436.20 391.10L437.70 393.30L439.20 391.10z" fill="#5fa8cc"/>
<circle cx="437.70" cy="389.5" r="0.8" fill="#5fa8cc"/>
<rect x="411.40" y="379.8" width="3.60" height="2.5" fill="#fff"/>
<rect x="411.40" y="396.7" width="3.60" height="2.5" fill="#fff"/>
<path d="M413.20 386.30V392.70" stroke="#5fa8cc" stroke-width="0.8" fill="none"/>
<path d="M411.70 387.90L413.20 385.70L414.70 387.90zM411.70 391.10L413.20 393.30L414.70 391.10z" fill="#5fa8cc"/>
<circle cx="413.20" cy="389.5" r="0.8" fill="#5fa8cc"/>
<rect x="386.70" y="379.8" width="3.60" height="2.5" fill="#fff"/>
<rect x="386.70" y="396.7" width="3.60" height="2.5" fill="#fff"/>
<path d="M388.50 386.30V392.70" stroke="#5fa8cc" stroke-width="0.8" fill="none"/>
<path d="M387.00 387.90L388.50 385.70L390.00 387.90zM387.00 391.10L388.50 393.30L390.00 391.10z" fill="#5fa8cc"/>
<circle cx="388.50" cy="389.5" r="0.8" fill="#5fa8cc"/>
<rect x="362.30" y="379.8" width="3.60" height="2.5" fill="#fff"/>
<rect x="362.30" y="396.7" width="3.60" height="2.5" fill="#fff"/>
<path d="M364.10 386.30V392.70" stroke="#5fa8cc" stroke-width="0.8" fill="none"/>
<path d="M362.60 387.90L364.10 385.70L365.60 387.90zM362.60 391.10L364.10 393.30L365.60 391.10z" fill="#5fa8cc"/>
<circle cx="364.10" cy="389.5" r="0.8" fill="#5fa8cc"/>
<rect x="329.90" y="295.0" width="13.80" height="3.6" fill="#fdfdfe"/>
<path d="M332.30 296.8H338.70" stroke="#5fa8cc" stroke-width="0.8" fill="none"/>
<path d="M333.70 295.7L331.80 296.8L333.70 297.90000000000003zM337.30 295.7L339.20 296.8L337.30 297.90000000000003z" fill="#5fa8cc"/>
<rect x="329.90" y="327.09999999999997" width="13.80" height="3.6" fill="#fdfdfe"/>
<path d="M332.30 328.9H338.70" stroke="#5fa8cc" stroke-width="0.8" fill="none"/>
<path d="M333.70 327.79999999999995L331.80 328.9L333.70 330.0zM337.30 327.79999999999995L339.20 328.9L337.30 330.0z" fill="#5fa8cc"/>
<rect x="329.90" y="359.59999999999997" width="13.80" height="3.6" fill="#fdfdfe"/>
<path d="M332.30 361.4H338.70" stroke="#5fa8cc" stroke-width="0.8" fill="none"/>
<path d="M333.70 360.29999999999995L331.80 361.4L333.70 362.5zM337.30 360.29999999999995L339.20 361.4L337.30 362.5z" fill="#5fa8cc"/>
<rect x="329.90" y="415.7" width="13.80" height="3.6" fill="#fdfdfe"/>
<path d="M332.30 417.5H338.70" stroke="#5fa8cc" stroke-width="0.8" fill="none"/>
<path d="M333.70 416.4L331.80 417.5L333.70 418.6zM337.30 416.4L339.20 417.5L337.30 418.6z" fill="#5fa8cc"/>
<rect x="329.90" y="448.4" width="13.80" height="3.6" fill="#fdfdfe"/>
<path d="M332.30 450.2H338.70" stroke="#5fa8cc" stroke-width="0.8" fill="none"/>
<path d="M333.70 449.09999999999997L331.80 450.2L333.70 451.3zM337.30 449.09999999999997L339.20 450.2L337.30 451.3z" fill="#5fa8cc"/>
<rect x="329.90" y="480.2" width="13.80" height="3.6" fill="#fdfdfe"/>
<path d="M332.30 482H338.70" stroke="#5fa8cc" stroke-width="0.8" fill="none"/>
<path d="M333.70 480.9L331.80 482L333.70 483.1zM337.30 480.9L339.20 482L337.30 483.1z" fill="#5fa8cc"/>
<rect x="461.30" y="284.0" width="6.40" height="6.2" fill="#3d6a9a" stroke="#dfe6ee" stroke-width="0.4"/>
<path d="M462.60 285.30l3.8 3.8M466.40 285.30l-3.8 3.8" stroke="#fff" stroke-width="0.7" fill="none"/>
<rect x="461.30" y="303.6" width="6.40" height="6.2" fill="#3d6a9a" stroke="#dfe6ee" stroke-width="0.4"/>
<path d="M462.60 304.90l3.8 3.8M466.40 304.90l-3.8 3.8" stroke="#fff" stroke-width="0.7" fill="none"/>
<rect x="461.30" y="349.2" width="6.40" height="6.2" fill="#3d6a9a" stroke="#dfe6ee" stroke-width="0.4"/>
<path d="M462.60 350.50l3.8 3.8M466.40 350.50l-3.8 3.8" stroke="#fff" stroke-width="0.7" fill="none"/>
<rect x="461.30" y="368.4" width="6.40" height="6.2" fill="#3d6a9a" stroke="#dfe6ee" stroke-width="0.4"/>
<path d="M462.60 369.70l3.8 3.8M466.40 369.70l-3.8 3.8" stroke="#fff" stroke-width="0.7" fill="none"/>
<rect x="461.30" y="405.5" width="6.40" height="6.2" fill="#3d6a9a" stroke="#dfe6ee" stroke-width="0.4"/>
<path d="M462.60 406.80l3.8 3.8M466.40 406.80l-3.8 3.8" stroke="#fff" stroke-width="0.7" fill="none"/>
<rect x="461.30" y="424.8" width="6.40" height="6.2" fill="#3d6a9a" stroke="#dfe6ee" stroke-width="0.4"/>
<path d="M462.60 426.10l3.8 3.8M466.40 426.10l-3.8 3.8" stroke="#fff" stroke-width="0.7" fill="none"/>
<rect x="461.30" y="470.4" width="6.40" height="6.2" fill="#3d6a9a" stroke="#dfe6ee" stroke-width="0.4"/>
<path d="M462.60 471.70l3.8 3.8M466.40 471.70l-3.8 3.8" stroke="#fff" stroke-width="0.7" fill="none"/>
<rect x="461.30" y="489.8" width="6.40" height="6.2" fill="#3d6a9a" stroke="#dfe6ee" stroke-width="0.4"/>
<path d="M462.60 491.10l3.8 3.8M466.40 491.10l-3.8 3.8" stroke="#fff" stroke-width="0.7" fill="none"/>
<path d="M462.50 296.8H466.90" stroke="#5fa8cc" stroke-width="0.8" fill="none"/>
<path d="M463.90 295.7L462.00 296.8L463.90 297.90000000000003zM465.50 295.7L467.40 296.8L465.50 297.90000000000003z" fill="#5fa8cc"/>
<path d="M462.50 361.2H466.90" stroke="#5fa8cc" stroke-width="0.8" fill="none"/>
<path d="M463.90 360.09999999999997L462.00 361.2L463.90 362.3zM465.50 360.09999999999997L467.40 361.2L465.50 362.3z" fill="#5fa8cc"/>
<path d="M462.50 417.6H466.90" stroke="#5fa8cc" stroke-width="0.8" fill="none"/>
<path d="M463.90 416.5L462.00 417.6L463.90 418.70000000000005zM465.50 416.5L467.40 417.6L465.50 418.70000000000005z" fill="#5fa8cc"/>
<path d="M462.50 482.6H466.90" stroke="#5fa8cc" stroke-width="0.8" fill="none"/>
<path d="M463.90 481.5L462.00 482.6L463.90 483.70000000000005zM465.50 481.5L467.40 482.6L465.50 483.70000000000005z" fill="#5fa8cc"/>
<rect x="330.90" y="299.2" width="9.20" height="9.2" fill="#a3195b" rx="0.8"/>
<path d="M332.10 304.10L335.50 300.90L338.90 304.10L338.40 304.60L335.50 301.90L332.60 304.60z" fill="#fff"/>
<path d="M333.20 304.30L335.50 302.30L337.80 304.30V306.90H336.30V305.10H334.70V306.90H333.20z" fill="#fff"/>
<rect x="330.90" y="349.4" width="9.20" height="9.2" fill="#a3195b" rx="0.8"/>
<path d="M332.10 354.30L335.50 351.10L338.90 354.30L338.40 354.80L335.50 352.10L332.60 354.80z" fill="#fff"/>
<path d="M333.20 354.50L335.50 352.50L337.80 354.50V357.10H336.30V355.30H334.70V357.10H333.20z" fill="#fff"/>
<rect x="330.90" y="421.4" width="9.20" height="9.2" fill="#a3195b" rx="0.8"/>
<path d="M332.10 426.30L335.50 423.10L338.90 426.30L338.40 426.80L335.50 424.10L332.60 426.80z" fill="#fff"/>
<path d="M333.20 426.50L335.50 424.50L337.80 426.50V429.10H336.30V427.30H334.70V429.10H333.20z" fill="#fff"/>
<rect x="330.90" y="470.4" width="9.20" height="9.2" fill="#a3195b" rx="0.8"/>
<path d="M332.10 475.30L335.50 472.10L338.90 475.30L338.40 475.80L335.50 473.10L332.60 475.80z" fill="#fff"/>
<path d="M333.20 475.50L335.50 473.50L337.80 475.50V478.10H336.30V476.30H334.70V478.10H333.20z" fill="#fff"/>
<rect x="330.90" y="313.1" width="9.20" height="9.0" fill="#3d6a9a" rx="0.8"/>
<path d="M332.90 315.00L338.30 320.40M338.10 315.00L332.70 320.40" stroke="#fff" stroke-width="1.1" stroke-linecap="round" fill="none"/>
<ellipse cx="333.30" cy="315.40" rx="1.3" ry="0.8" transform="rotate(45 333.30 315.40)" fill="#fff"/>
<rect x="330.90" y="335.6" width="9.20" height="9.0" fill="#3d6a9a" rx="0.8"/>
<path d="M332.90 337.50L338.30 342.90M338.10 337.50L332.70 342.90" stroke="#fff" stroke-width="1.1" stroke-linecap="round" fill="none"/>
<ellipse cx="333.30" cy="337.90" rx="1.3" ry="0.8" transform="rotate(45 333.30 337.90)" fill="#fff"/>
<rect x="330.90" y="435.8" width="9.20" height="9.0" fill="#3d6a9a" rx="0.8"/>
<path d="M332.90 437.70L338.30 443.10M338.10 437.70L332.70 443.10" stroke="#fff" stroke-width="1.1" stroke-linecap="round" fill="none"/>
<ellipse cx="333.30" cy="438.10" rx="1.3" ry="0.8" transform="rotate(45 333.30 438.10)" fill="#fff"/>
<rect x="330.90" y="455.9" width="9.20" height="9.0" fill="#3d6a9a" rx="0.8"/>
<path d="M332.90 457.80L338.30 463.20M338.10 457.80L332.70 463.20" stroke="#fff" stroke-width="1.1" stroke-linecap="round" fill="none"/>
<ellipse cx="333.30" cy="458.20" rx="1.3" ry="0.8" transform="rotate(45 333.30 458.20)" fill="#fff"/>
<text x="451.8" y="294.7" font-family="DejaVu Sans, Liberation Sans, sans-serif" font-size="15.1" letter-spacing="0.6" fill="#fff" stroke="#fff" stroke-width="0.35" text-anchor="end">Hall E4</text>
<text x="453.6" y="309.1" font-family="Liberation Sans, Noto Sans CJK SC, sans-serif" font-size="9.4" font-weight="700" fill="#fff" text-anchor="end">[东4号馆]</text>
<text x="451.8" y="358.7" font-family="DejaVu Sans, Liberation Sans, sans-serif" font-size="15.1" letter-spacing="0.6" fill="#fff" stroke="#fff" stroke-width="0.35" text-anchor="end">Hall E3</text>
<text x="453.6" y="373.1" font-family="Liberation Sans, Noto Sans CJK SC, sans-serif" font-size="9.4" font-weight="700" fill="#fff" text-anchor="end">[东3号馆]</text>
<text x="451.8" y="416.0" font-family="DejaVu Sans, Liberation Sans, sans-serif" font-size="15.1" letter-spacing="0.6" fill="#fff" stroke="#fff" stroke-width="0.35" text-anchor="end">Hall E2</text>
<text x="453.6" y="430.4" font-family="Liberation Sans, Noto Sans CJK SC, sans-serif" font-size="9.4" font-weight="700" fill="#fff" text-anchor="end">[东2号馆]</text>
<text x="451.8" y="481.6" font-family="DejaVu Sans, Liberation Sans, sans-serif" font-size="15.1" letter-spacing="0.6" fill="#fff" stroke="#fff" stroke-width="0.35" text-anchor="end">Hall E1</text>
<text x="453.6" y="496.0" font-family="Liberation Sans, Noto Sans CJK SC, sans-serif" font-size="9.4" font-weight="700" fill="#fff" text-anchor="end">[东1号馆]</text>
<text x="354.3" y="330.9" font-family="DejaVu Sans, Liberation Sans, sans-serif" font-size="5.6" font-weight="700" fill="#fff" text-anchor="middle">E3+</text>
<text x="354.3" y="453.2" font-family="DejaVu Sans, Liberation Sans, sans-serif" font-size="5.6" font-weight="700" fill="#fff" text-anchor="middle">E1+</text>
<path d="M289.3 275.59999999999997V282.8" stroke="#5fa8cc" stroke-width="0.8" fill="none"/>
<path d="M287.8 277.20L289.3 275.00L290.8 277.20zM287.8 281.20L289.3 283.40L290.8 281.20z" fill="#5fa8cc"/>
<circle cx="289.3" cy="279.2" r="0.8" fill="#5fa8cc"/>
<path d="M289.3 496.4V503.6" stroke="#5fa8cc" stroke-width="0.8" fill="none"/>
<path d="M287.8 498.00L289.3 495.80L290.8 498.00zM287.8 502.00L289.3 504.20L290.8 502.00z" fill="#5fa8cc"/>
<circle cx="289.3" cy="500" r="0.8" fill="#5fa8cc"/>
<path d="M321.4 275.59999999999997V282.8" stroke="#5fa8cc" stroke-width="0.8" fill="none"/>
<path d="M319.9 277.20L321.4 275.00L322.9 277.20zM319.9 281.20L321.4 283.40L322.9 281.20z" fill="#5fa8cc"/>
<circle cx="321.4" cy="279.2" r="0.8" fill="#5fa8cc"/>
<path d="M321.4 496.4V503.6" stroke="#5fa8cc" stroke-width="0.8" fill="none"/>
<path d="M319.9 498.00L321.4 495.80L322.9 498.00zM319.9 502.00L321.4 504.20L322.9 502.00z" fill="#5fa8cc"/>
<circle cx="321.4" cy="500" r="0.8" fill="#5fa8cc"/>
<rect x="266.6" y="211" width="77.2" height="20.8" fill="#e30a18"/>
<text x="305.2" y="220.5" font-family="Liberation Sans, Noto Sans CJK SC, sans-serif" font-size="7.75" font-weight="700" fill="#fff" text-anchor="middle">观众入口[北门]</text>
<text x="305.2" y="228.0" font-family="DejaVu Sans, Liberation Sans, sans-serif" font-size="5.2" fill="#fff" text-anchor="middle">North Entrance Hall</text>
<rect x="266.7" y="554.5" width="77.3" height="20.8" fill="#e30a18"/>
<text x="305.3" y="564.0" font-family="Liberation Sans, Noto Sans CJK SC, sans-serif" font-size="7.75" font-weight="700" fill="#fff" text-anchor="middle">观众入口[南门]</text>
<text x="305.3" y="571.5" font-family="DejaVu Sans, Liberation Sans, sans-serif" font-size="5.2" fill="#fff" text-anchor="middle">South Entrance Hall</text>
<rect x="72.3" y="379.3" width="62.2" height="20.3" fill="#e30a18"/>
<text x="103.4" y="388.8" font-family="Liberation Sans, Noto Sans CJK SC, sans-serif" font-size="7.75" font-weight="700" fill="#fff" text-anchor="middle">观众入口[西门]</text>
<text x="103.4" y="396.3" font-family="DejaVu Sans, Liberation Sans, sans-serif" font-size="5.2" fill="#fff" text-anchor="middle">West Entrance Hall</text>
<rect x="475.2" y="379.3" width="74.8" height="20.1" fill="#e30a18"/>
<text x="512.6" y="388.8" font-family="Liberation Sans, Noto Sans CJK SC, sans-serif" font-size="7.75" font-weight="700" fill="#fff" text-anchor="middle">观众入口[东门]</text>
<text x="512.6" y="396.3" font-family="DejaVu Sans, Liberation Sans, sans-serif" font-size="5.2" fill="#fff" text-anchor="middle">East Entrance Hall</text>
<rect x="54" y="549" width="23" height="23" fill="#fff"/>
<g transform="translate(513.8 566.4) rotate(0)">
<path d="M0 -13.399999999999999C2.5 -10.7 9.2 -6.6 9.2 0A9.2 9.2 0 1 1 -9.2 0C-9.2 -6.6 -2.5 -10.7 0 -13.399999999999999z" fill="#b5b5b5" stroke="#fff" stroke-width="1.6"/>
</g>
<text transform="translate(513.8 566.4) rotate(0)" x="0" y="4.3" font-family="DejaVu Sans, Liberation Sans, sans-serif" font-size="11.8" font-weight="700" fill="#fff" stroke="#fff" stroke-width="0.3" text-anchor="middle">1</text>
<g transform="translate(186 567) rotate(0)">
<path d="M0 -13.399999999999999C2.5 -10.7 9.2 -6.6 9.2 0A9.2 9.2 0 1 1 -9.2 0C-9.2 -6.6 -2.5 -10.7 0 -13.399999999999999z" fill="#b5b5b5" stroke="#fff" stroke-width="1.6"/>
</g>
<text transform="translate(186 567) rotate(0)" x="0" y="4.3" font-family="DejaVu Sans, Liberation Sans, sans-serif" font-size="11.8" font-weight="700" fill="#fff" stroke="#fff" stroke-width="0.3" text-anchor="middle">2</text>
<g transform="translate(67.8 557.8) rotate(45)">
<path d="M0 -13.399999999999999C2.5 -10.7 9.2 -6.6 9.2 0A9.2 9.2 0 1 1 -9.2 0C-9.2 -6.6 -2.5 -10.7 0 -13.399999999999999z" fill="#b5b5b5" stroke="#fff" stroke-width="1.6"/>
</g>
<text transform="translate(67.8 557.8) rotate(45)" x="0" y="4.3" font-family="DejaVu Sans, Liberation Sans, sans-serif" font-size="11.8" font-weight="700" fill="#fff" stroke="#fff" stroke-width="0.3" text-anchor="middle">3</text>
<g transform="translate(56.8 294.1) rotate(90)">
<path d="M0 -13.399999999999999C2.5 -10.7 9.2 -6.6 9.2 0A9.2 9.2 0 1 1 -9.2 0C-9.2 -6.6 -2.5 -10.7 0 -13.399999999999999z" fill="#b5b5b5" stroke="#fff" stroke-width="1.6"/>
</g>
<text transform="translate(56.8 294.1) rotate(62)" x="0" y="4.3" font-family="DejaVu Sans, Liberation Sans, sans-serif" font-size="11.8" font-weight="700" fill="#fff" stroke="#fff" stroke-width="0.3" text-anchor="middle">4</text>
<g transform="translate(566.2 294) rotate(-90)">
<path d="M0 -13.399999999999999C2.5 -10.7 9.2 -6.6 9.2 0A9.2 9.2 0 1 1 -9.2 0C-9.2 -6.6 -2.5 -10.7 0 -13.399999999999999z" fill="#b5b5b5" stroke="#fff" stroke-width="1.6"/>
</g>
<text transform="translate(566.2 294) rotate(90)" x="0" y="4.3" font-family="DejaVu Sans, Liberation Sans, sans-serif" font-size="11.8" font-weight="700" fill="#fff" stroke="#fff" stroke-width="0.3" text-anchor="middle">6</text>
<g transform="translate(566.2 485) rotate(-90)">
<path d="M0 -13.399999999999999C2.5 -10.7 9.2 -6.6 9.2 0A9.2 9.2 0 1 1 -9.2 0C-9.2 -6.6 -2.5 -10.7 0 -13.399999999999999z" fill="#b5b5b5" stroke="#fff" stroke-width="1.6"/>
</g>
<text transform="translate(566.2 485) rotate(60)" x="0" y="4.3" font-family="DejaVu Sans, Liberation Sans, sans-serif" font-size="11.8" font-weight="700" fill="#fff" stroke="#fff" stroke-width="0.3" text-anchor="middle">7</text>
<rect x="56.9" y="598" width="20.8" height="20.8" rx="2.2" fill="#3d6896"/>
<path d="M65 606L73.6 614.8M70 605.8L61 614.8" stroke="#fff" stroke-width="1.6" stroke-linecap="round" fill="none"/>
<path d="M60.9 601.7C63.6 601.9 66.2 604.2 66.6 606.6L65 607.6C63.6 605.4 62 603.8 60.9 601.7z" fill="#fff"/>
<path d="M68.8 606.8C67.6 605.4 69.4 603.6 71.2 602L74.2 604.8C72.6 606.8 70.4 608.2 68.8 606.8z" fill="#fff"/>
<path d="M71 602.4l1.6-1.6M72.4 603.6l1.7-1.7M73.7 604.9l1.6-1.6" stroke="#fff" stroke-width="0.8" stroke-linecap="round" fill="none"/>
<rect x="158.1" y="598" width="20.8" height="20.8" rx="2.2" fill="#9c1a55"/>
<path d="M161.3 609.2L168.5 602.2L175.7 609.2L174.5 610.4L168.5 604.6L162.5 610.4z" fill="#fff"/>
<path d="M163.7 609.8L168.5 605.4L173.3 609.8V615.4H170.1V611.4H166.9V615.4H163.7z" fill="#fff"/>
<rect x="308.3" y="598" width="20.8" height="20.8" fill="#dcdcdc"/>
<circle cx="318.7" cy="608.4" r="8.2" fill="#fff"/>
<text x="318.9" y="613.2" font-family="DejaVu Sans, Liberation Sans, sans-serif" font-size="13.4" fill="#7a7a7a" text-anchor="middle">P</text>
<rect x="453.2" y="595" width="20.9" height="20.8" rx="2" fill="#1a6e35"/>
<ellipse cx="461.6" cy="601.6" rx="2.7" ry="3.3" fill="#fff"/>
<path d="M455.8 611.6q0.3-5 4.2-5.4l1.6 1.8l1.6-1.8q3.9 0.4 4.2 5.4z" fill="#fff"/>
<circle cx="468.4" cy="610.2" r="3.2" fill="#fff" stroke="#1a6e35" stroke-width="0.9"/>
<path d="M466.8 610.2l1.2 1.3l2.1-2.5" stroke="#1a6e35" stroke-width="0.9" fill="none"/>
<defs><linearGradient id="bsh" x1="0" y1="0" x2="0" y2="1"><stop offset="0" stop-color="#ffffff"/><stop offset="1" stop-color="#ebebeb"/></linearGradient></defs>
<rect x="0" y="621.5" width="978" height="4.5" fill="url(#bsh)"/>
<!--MAPEND-->
</svg>

<!-- bottom legend -->
<div class="abs bl" style="left:83px;top:600.2px;color:#557aa3;">餐饮区</div>
<div class="abs bl" style="left:184.4px;top:600.2px;color:#a3205e;">主办/主场服务台</div>
<div class="abs bl" style="left:333.6px;top:600.2px;color:#9e9e9e;">计时收费停车场</div>
<div class="abs bl" style="left:479.2px;top:597.6px;color:#2b7a47;">会议室(南登录厅)</div>

</body>
</html>
